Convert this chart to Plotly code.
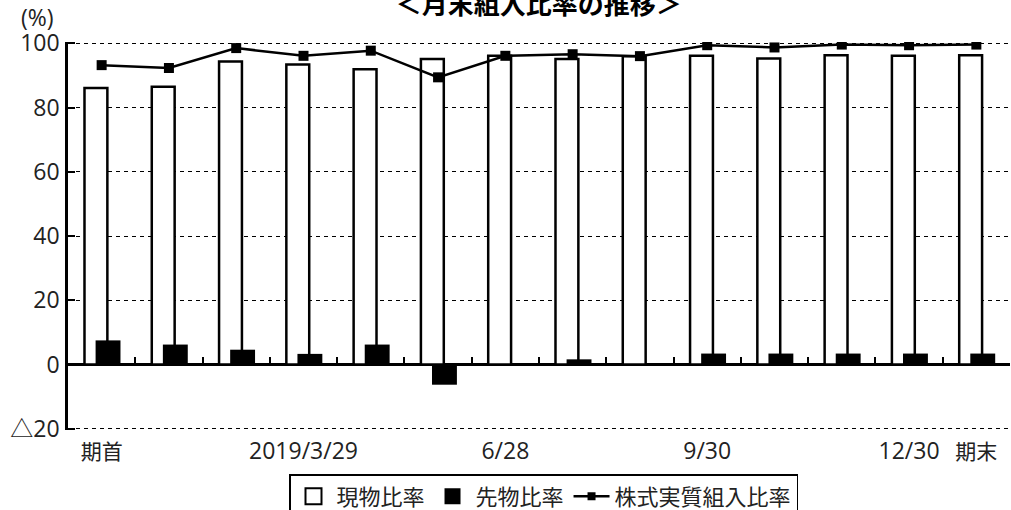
import plotly.graph_objects as go

x_labels = ["期首", "", "", "2019/3/29", "", "", "6/28", "", "", "9/30", "", "", "12/30", "期末"]
genbutsu = [86.1, 86.5, 94.3, 93.4, 91.9, 95.1, 96.1, 95.1, 96.0, 96.1, 95.3, 96.3, 96.1, 96.3]
sakimono = [7.5, 6.2, 4.6, 3.3, 6.2, -6.3, 0, 1.6, 0, 3.4, 3.4, 3.4, 3.4, 3.4]
jisshitsu = [93.2, 92.3, 98.5, 96.1, 97.7, 89.4, 96.1, 96.6, 96.0, 99.4, 98.7, 99.6, 99.4, 99.6]
y_ticks = [-20, 0, 20, 40, 60, 80, 100]
y_ticktext = ["△20", "0", "20", "40", "60", "80", "100"]
series_names = ["現物比率", "先物比率", "株式実質組入比率"]

xs = list(range(len(x_labels)))
CJK = "Noto Sans CJK JP"
NUM = "Open Sans, Noto Sans CJK JP, sans-serif"


def fmt_label(t):
    # CJK labels are drawn a little smaller than the numeric ones
    if t and not any(ch.isdigit() for ch in t):
        return f'<span style="font-family:{CJK};font-size:21px">{t}</span>'
    return t


fig = go.Figure()
fig.add_trace(go.Bar(x=xs, y=genbutsu, width=0.34, offset=-0.255,
                     marker=dict(color="white", line=dict(color="black", width=2.5)),
                     showlegend=False))
fig.add_trace(go.Bar(x=xs, y=sakimono, width=0.37, offset=-0.09,
                     marker=dict(color="black", line=dict(width=0)),
                     showlegend=False))
fig.add_trace(go.Scatter(x=xs, y=jisshitsu, mode="lines+markers",
                         line=dict(color="black", width=2.5),
                         marker=dict(symbol="square", size=10, color="black"),
                         showlegend=False))

# legend entries
fig.add_trace(go.Scatter(x=[None], y=[None], mode="markers", name=series_names[0],
                         marker=dict(symbol="square", size=16, color="white",
                                     line=dict(color="black", width=2))))
fig.add_trace(go.Scatter(x=[None], y=[None], mode="markers", name=series_names[1],
                         marker=dict(symbol="square", size=16, color="black")))
fig.add_trace(go.Scatter(x=[None], y=[None], mode="lines+markers", name=series_names[2],
                         line=dict(color="black", width=2.5),
                         marker=dict(symbol="square", size=8, color="black")))
# dummy trace on xaxis2 so that axis renders
fig.add_trace(go.Scatter(x=[None], y=[None], xaxis="x2", showlegend=False))

fig.update_layout(
    width=1011, height=510,
    margin=dict(l=68, r=1, t=42, b=80),
    paper_bgcolor="white", plot_bgcolor="white",
    barmode="overlay",
    font=dict(family=NUM, size=22, color="#222"),
    title=dict(text="＜月末組入比率の推移＞", x=0.533, xanchor="center",
               y=0.99, yanchor="middle", yref="container",
               font=dict(family=CJK, size=26, color="black", weight="bold")),
    xaxis=dict(range=[-0.5, 13.5], tickvals=xs, ticktext=[fmt_label(t) for t in x_labels],
               showgrid=False, zeroline=False, showline=False, ticks="",
               ticklabelstandoff=5, tickfont=dict(family=NUM, size=23), automargin=False),
    xaxis2=dict(range=[-0.5, 13.5], overlaying="x", anchor="free",
                position=20.4 / 120.8, side="bottom",
                tickvals=[v + 0.5 for v in xs[:-1]],
                ticks="inside", ticklen=7, tickwidth=2, tickcolor="black",
                showticklabels=False, showgrid=False, zeroline=False, showline=False),
    yaxis=dict(range=[-20.4, 100.4], tickvals=y_ticks, ticktext=y_ticktext,
               showgrid=True, gridcolor="black", gridwidth=1, griddash="4px,4px",
               zeroline=True, zerolinecolor="black", zerolinewidth=2.5,
               showline=True, linecolor="black", linewidth=2.5,
               ticks="inside", ticklen=7, tickwidth=2, tickcolor="black",
               ticklabelstandoff=1, tickfont=dict(family=NUM, size=23), automargin=False),
    legend=dict(orientation="h", xref="container", yref="container",
                x=289 / 1011, xanchor="left", y=1 - 474 / 510, yanchor="top",
                bordercolor="black", borderwidth=1.5, itemwidth=36,
                font=dict(family=CJK, size=22, color="#222"),
                itemclick=False),
    annotations=[dict(text="(%)", xref="paper", yref="paper", x=-0.032, y=1,
                      xanchor="center", yanchor="bottom", yshift=7, showarrow=False,
                      font=dict(family=NUM, size=23, color="#222"))],
)

fig.write_html("out.html", config={"displayModeBar": False},
               post_script="document.body.style.margin='0';document.body.style.padding='0';")
